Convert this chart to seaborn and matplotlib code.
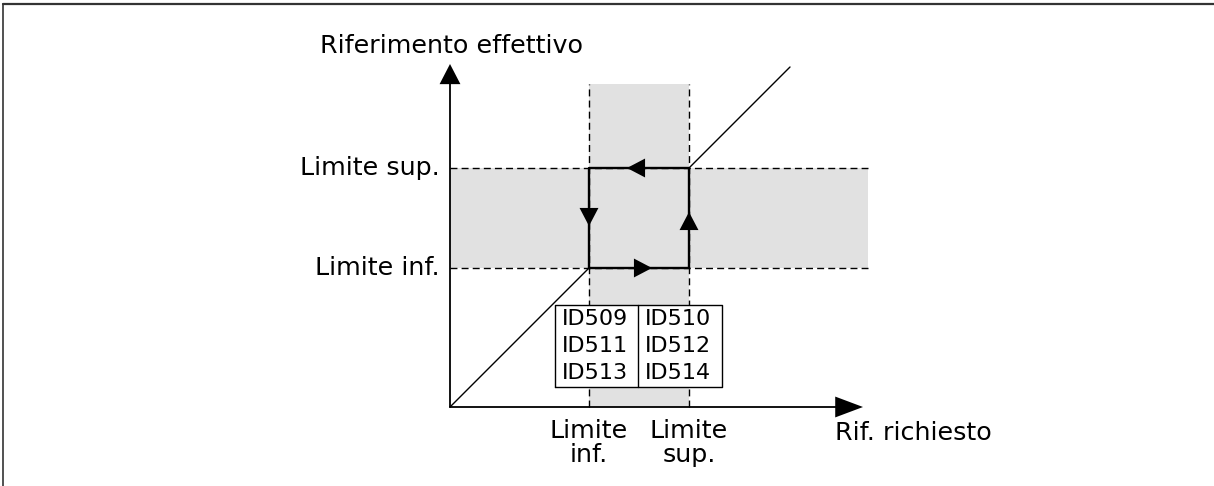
import numpy as np
import pandas as pd
import seaborn as sns
import matplotlib.pyplot as plt
from matplotlib.lines import Line2D

# chart values (diagram units, origin = axes crossing)
lim_names = ["Limite inf.", "Limite sup."]
lim_x_names = ["Limite\ninf.", "Limite\nsup."]
lim_vals = [1.39, 2.39]
x_title = "Rif. richiesto"
y_title = "Riferimento effettivo"
x_axis_end = 4.13
y_axis_end = 3.43
diag_end = 3.40
vband_top = 3.23
hband_right = 4.18
id_left = ["ID509", "ID511", "ID513"]
id_right = ["ID510", "ID512", "ID514"]

sns.set_theme(style="white")
plt.rcParams['font.family'] = ['DejaVu Sans']
plt.rcParams['text.color'] = 'black'

fig = plt.figure(figsize=(12.14, 4.86), dpi=100)
ax = fig.add_axes([0, 0, 1, 1])
ax.set_xlim(-4.50, 7.64)
ax.set_ylim(-0.79, 4.07)
ax.axis("off")

lo, hi = lim_vals
grey = "#e1e1e1"

# shaded bands
ax.fill_between([lo, hi], 0, vband_top, color=grey, lw=0, zorder=0)
ax.fill_between([0, hband_right], lo, hi, color=grey, lw=0, zorder=0)

# dashed guides
for v in lim_vals:
    ax.plot([v, v], [0, vband_top], color="black", lw=1, ls=(0, (5, 3)), zorder=1)
    ax.plot([0, hband_right], [v, v], color="black", lw=1, ls=(0, (5, 3)), zorder=1)

# diagonal, interrupted inside the hysteresis loop
for seg in ([0, lo], [hi, diag_end]):
    diag = pd.DataFrame({"x": seg, "y": seg})
    sns.lineplot(data=diag, x="x", y="y", ax=ax, color="black", lw=1, zorder=2)

# hysteresis loop
loop = pd.DataFrame({"x": [lo, hi, hi, lo, lo], "y": [lo, lo, hi, hi, lo]})
sns.lineplot(data=loop, x="x", y="y", ax=ax, sort=False, estimator=None,
             color="black", lw=1.7, zorder=3)

def head(tip, direction, length=1.3, width=0.68):
    dx, dy = direction
    base = (tip[0] - 0.5 * dx, tip[1] - 0.5 * dy)
    ax.annotate("", xy=tip, xytext=base,
                arrowprops=dict(arrowstyle=f"-|>,head_length={length},head_width={width}",
                                color="black", lw=0, shrinkA=0, shrinkB=0,
                                mutation_scale=10),
                zorder=4)

head((1.77, hi), (-1, 0))
head((2.02, lo), (1, 0))
head((lo, 1.81), (0, -1))
head((hi, 1.95), (0, 1))

# axes with arrows
ax.plot([0, x_axis_end - 0.1], [0, 0], color="black", lw=1.3, zorder=3)
ax.plot([0, 0], [0, y_axis_end - 0.1], color="black", lw=1.3, zorder=3)
head((x_axis_end, 0), (1, 0), length=2.0, width=0.75)
head((0, y_axis_end), (0, 1), length=1.45, width=0.75)

# axis texts
fs = 18.3
ax.text(0.01, 3.61, y_title, ha="center", va="center", fontsize=fs)
ax.text(3.85, -0.26, x_title, ha="left", va="center", fontsize=fs)
for v, name in zip(lim_vals, lim_names):
    ax.text(-0.10, v, name, ha="right", va="center", fontsize=fs)
for v, name in zip(lim_vals, lim_x_names):
    ax.text(v, -0.115, name, ha="center", va="top", fontsize=fs, linespacing=1.0)

# parameter ID table
bx0, bx1, bxm = 1.05, 2.72, 1.88
by0, by1 = 0.20, 1.02
ax.fill_between([bx0, bx1], by0, by1, color="white", lw=0, zorder=5)
ax.plot([bx0, bx1, bx1, bx0, bx0], [by0, by0, by1, by1, by0], color="black", lw=1, zorder=6)
ax.plot([bxm, bxm], [by0, by1], color="black", lw=1, zorder=6)
rows = [0.885, 0.615, 0.345]
for ry, a, b in zip(rows, id_left, id_right):
    ax.text(bx0 + 0.07, ry, a, ha="left", va="center", fontsize=16, zorder=7)
    ax.text(bxm + 0.07, ry, b, ha="left", va="center", fontsize=16, zorder=7)

# outer frame (top and left)
fig.add_artist(Line2D([3 / 1214, 1], [1 - 4 / 486, 1 - 4 / 486], color="#333333", lw=1.6))
fig.add_artist(Line2D([3 / 1214, 3 / 1214], [0, 1 - 4 / 486], color="#333333", lw=1.2))

fig.savefig("out.png", dpi=100)
